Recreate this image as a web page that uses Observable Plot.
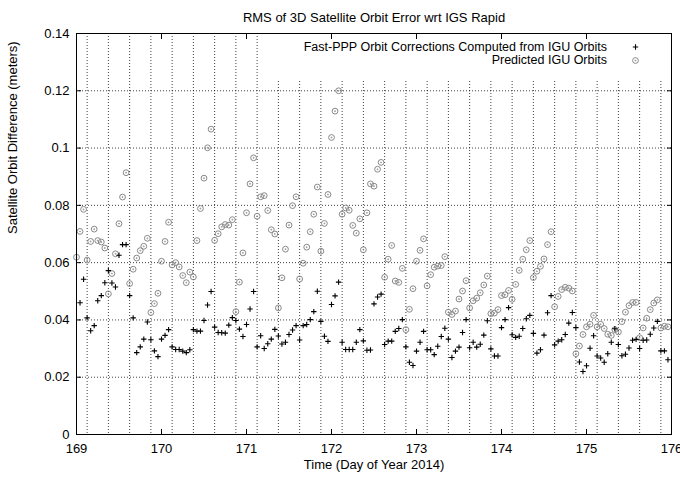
<!DOCTYPE html>
<html><head><meta charset="utf-8">
<script src="https://cdn.jsdelivr.net/npm/d3@7"></script>
<script src="https://cdn.jsdelivr.net/npm/@observablehq/plot@0.6"></script>
<style>
body{margin:0;background:#fff;}
#wrap{position:relative;width:680px;height:479px;font-family:"Liberation Sans",Arial,Helvetica,sans-serif;}
#wrap > svg, #wrap > div{position:absolute;left:0;top:0;}
#legend{left:272px !important;top:34px !important;width:398px;height:45px;background:#fff;}
</style></head><body><div id="wrap"></div>
<script>
const title = "RMS of 3D Satellite Orbit Error wrt IGS Rapid";
const xLabel = "Time (Day of Year 2014)";
const yLabel = "Satellite Orbit Difference (meters)";
const seriesNames = ["Fast-PPP Orbit Corrections Computed from IGU Orbits", "Predicted IGU Orbits"];
const startDay = 169;      // first epoch (day of year)
const stepDays = 1 / 24;   // hourly epochs
const xTicks = [169, 170, 171, 172, 173, 174, 175, 176];
const yTicks = [0, 0.02, 0.04, 0.06, 0.08, 0.10, 0.12, 0.14];
const gridY = [0.02, 0.04, 0.06, 0.08, 0.10, 0.12];
const gridX = [169.125, 169.375, 169.625, 169.875, 170.125, 170.375, 170.625, 170.875,
  171.125, 171.375, 171.625, 171.875, 172.125, 172.375, 172.625, 172.875,
  173.125, 173.375, 173.625, 173.875, 174.125, 174.375, 174.625, 174.875,
  175.125, 175.375, 175.625, 175.875];

// Fast-PPP orbit corrections computed from IGU orbits (meters), hourly
const fastPPP = [null,
  0.0460, 0.0542, 0.0407, 0.0362, 0.0380, 0.0467, 0.0485, 0.0530, 0.0572, 0.0529,
  0.0515, 0.0626, 0.0663, 0.0663, 0.0485, 0.0407, 0.0286, 0.0306, 0.0333, 0.0393,
  0.0331, 0.0292, 0.0272, 0.0333, 0.0346, 0.0366, 0.0306, 0.0297, 0.0297, 0.0291,
  0.0286, 0.0296, 0.0366, 0.0361, 0.0361, 0.0398, 0.0452, 0.0499, 0.0375, 0.0356,
  0.0355, 0.0354, 0.0382, 0.0408, 0.0398, 0.0368, 0.0342, 0.0384, 0.0438, 0.0499,
  0.0306, 0.0345, 0.0300, 0.0317, 0.0333, 0.0367, 0.0344, 0.0316, 0.0322, 0.0349,
  0.0365, 0.0380, 0.0330, 0.0380, 0.0384, 0.0401, 0.0429, 0.0500, 0.0395, 0.0343,
  0.0325, 0.0454, 0.0484, 0.0532, 0.0322, 0.0297, 0.0297, 0.0297, 0.0322, 0.0366,
  0.0327, 0.0294, 0.0295, 0.0456, 0.0480, 0.0490, 0.0314, 0.0326, 0.0326, 0.0360,
  0.0370, 0.0401, 0.0306, 0.0252, 0.0241, 0.0291, 0.0322, 0.0360, 0.0296, 0.0296,
  0.0279, 0.0308, 0.0342, 0.0371, 0.0333, 0.0269, 0.0291, 0.0305, 0.0356, 0.0401,
  0.0303, 0.0322, 0.0305, 0.0315, 0.0347, 0.0397, 0.0299, 0.0274, 0.0274, 0.0373,
  0.0401, 0.0443, 0.0348, 0.0339, 0.0343, 0.0370, 0.0404, 0.0416, 0.0353, 0.0284,
  0.0296, 0.0347, 0.0425, 0.0485, 0.0313, 0.0326, 0.0331, 0.0349, 0.0389, 0.0426,
  0.0373, 0.0253, 0.0220, 0.0240, 0.0301, 0.0345, 0.0274, 0.0267, 0.0252, 0.0282,
  0.0322, 0.0369, 0.0314, 0.0275, 0.0280, 0.0302, 0.0329, 0.0332, 0.0300, 0.0329,
  0.0330, 0.0350, 0.0372, 0.0395, 0.0292, 0.0292, 0.0261];

// Predicted IGU orbits (meters), hourly
const iguPredicted = [
  0.0619, 0.0709, 0.0786, 0.0609, 0.0674, 0.0717, 0.0677, 0.0672, 0.0651, 0.0491,
  0.0562, 0.0631, 0.0736, 0.0829, 0.0914, 0.0527, 0.0577, 0.0616, 0.0642, 0.0657,
  0.0685, 0.0426, 0.0457, 0.0493, 0.0605, 0.0674, 0.0741, 0.0592, 0.0600, 0.0585,
  0.0555, 0.0530, 0.0567, 0.0550, 0.0677, 0.0789, 0.0895, 0.1001, 0.1066, 0.0678,
  0.0701, 0.0725, 0.0733, 0.0731, 0.0750, 0.0429, 0.0532, 0.0634, 0.0774, 0.0875,
  0.0966, 0.0762, 0.0830, 0.0834, 0.0782, 0.0715, 0.0700, 0.0442, 0.0547, 0.0647,
  0.0731, 0.0799, 0.0830, 0.0543, 0.0598, 0.0654, 0.0708, 0.0769, 0.0864, 0.0640,
  0.0737, 0.0838, 0.1037, 0.1129, 0.1200, 0.0769, 0.0791, 0.0783, 0.0730, 0.0703,
  0.0753, 0.0645, 0.0774, 0.0875, 0.0867, 0.0926, 0.0950, 0.0549, 0.0612, 0.0660,
  0.0536, 0.0531, 0.0580, 0.0366, 0.0437, 0.0509, 0.0605, 0.0643, 0.0683, 0.0519,
  0.0558, 0.0584, 0.0588, 0.0590, 0.0621, 0.0427, 0.0419, 0.0431, 0.0473, 0.0501,
  0.0537, 0.0442, 0.0467, 0.0476, 0.0495, 0.0522, 0.0553, 0.0422, 0.0424, 0.0436,
  0.0485, 0.0488, 0.0503, 0.0472, 0.0524, 0.0573, 0.0612, 0.0645, 0.0677, 0.0548,
  0.0570, 0.0587, 0.0613, 0.0663, 0.0708, 0.0446, 0.0482, 0.0506, 0.0514, 0.0511,
  0.0501, 0.0282, 0.0309, 0.0349, 0.0376, 0.0385, 0.0416, 0.0376, 0.0385, 0.0370,
  0.0350, 0.0346, 0.0366, 0.0358, 0.0394, 0.0427, 0.0450, 0.0461, 0.0461, 0.0338,
  0.0372, 0.0406, 0.0436, 0.0459, 0.0470, 0.0372, 0.0378, 0.0376];

const toRows = arr => arr.map((v, i) => ({t: startDay + i * stepDays, v})).filter(d => d.v != null);
const fppRows = toRows(fastPPP);
const iguRows = toRows(iguPredicted);

const plusSymbol = {draw(ctx, size) { const r = Math.sqrt(size / Math.PI);
  ctx.moveTo(-r, 0); ctx.lineTo(r, 0); ctx.moveTo(0, -r); ctx.lineTo(0, r); }};
const circleDotSymbol = {draw(ctx, size) { const r = Math.sqrt(size / Math.PI);
  ctx.moveTo(r, 0); ctx.arc(0, 0, r, 0, 2 * Math.PI);
  ctx.moveTo(0.45, 0); ctx.arc(0, 0, 0.45, 0, 2 * Math.PI); }};

const common = {
  width: 680, height: 479,
  marginLeft: 76, marginRight: 9, marginTop: 33, marginBottom: 45,
  x: {domain: [169, 176], label: null},
  y: {domain: [0, 0.14], label: null},
  style: {background: "transparent", fontFamily: '"Liberation Sans", Arial, Helvetica, sans-serif', fontSize: "13px", color: "#000", overflow: "visible"}
};

const gridPlot = Plot.plot({
  ...common,
  x: {...common.x, axis: null},
  y: {...common.y, axis: null},
  marks: [
    Plot.ruleX(gridX, {stroke: "#000", strokeOpacity: 0.75, strokeDasharray: "1,2"}),
    Plot.ruleY(gridY, {stroke: "#000", strokeOpacity: 0.75, strokeDasharray: "1,2"})
  ]
});

const blank = () => "";
const mainPlot = Plot.plot({
  ...common,
  marks: [
    Plot.dot(iguRows, {x: "t", y: "v", symbol: circleDotSymbol, r: 2.9, stroke: "#888", fill: "none", strokeWidth: 1}),
    Plot.dot(fppRows, {x: "t", y: "v", symbol: plusSymbol, r: 2.7, stroke: "#000", fill: "none", strokeWidth: 1.1}),
    Plot.axisX({ticks: xTicks, anchor: "bottom", tickSize: 0, tickPadding: 9, tickFormat: d3.format("d")}),
    Plot.axisX({ticks: xTicks, anchor: "bottom", tickSize: -5, tickFormat: blank}),
    Plot.axisX({ticks: xTicks, anchor: "top", tickSize: -5, tickFormat: blank}),
    Plot.axisY({ticks: yTicks, anchor: "left", tickSize: 0, tickPadding: 7, tickFormat: d3.format("~g")}),
    Plot.axisY({ticks: yTicks, anchor: "left", tickSize: -5, tickFormat: blank}),
    Plot.axisY({ticks: yTicks, anchor: "right", tickSize: -5, tickFormat: blank}),
    Plot.frame({stroke: "#000"}),
    Plot.text([title], {text: d => d, frameAnchor: "top", dy: -21, fontSize: 13}),
    Plot.text([xLabel], {text: d => d, frameAnchor: "bottom", dy: 34, fontSize: 13}),
    Plot.text([yLabel], {text: d => d, frameAnchor: "left", rotate: -90, dx: -64, fontSize: 13})
  ]
});

const wrap = document.getElementById("wrap");
wrap.appendChild(gridPlot);

const legend = document.createElement("div");
legend.id = "legend";
wrap.appendChild(legend);
const lsvg = d3.select(legend).append("svg").attr("width", 398).attr("height", 45)
  .style("font-family", '"Liberation Sans", Arial, Helvetica, sans-serif').style("font-size", "12.5px");
seriesNames.forEach((name, i) => {
  const cy = 12.5 + i * 13.5;
  lsvg.append("text").attr("x", 335).attr("y", cy).attr("dy", "0.35em").attr("text-anchor", "end").attr("fill", "#000").text(name);
  const p = d3.path();
  (i === 0 ? plusSymbol : circleDotSymbol).draw(p, Math.PI * (i === 0 ? 2.7 : 2.9) ** 2);
  lsvg.append("path").attr("transform", `translate(363.5,${cy + 0.5})`).attr("d", p.toString())
    .attr("fill", "none").attr("stroke", i === 0 ? "#000" : "#888").attr("stroke-width", i === 0 ? 1.1 : 1);
});

wrap.appendChild(mainPlot);
</script></body></html>
